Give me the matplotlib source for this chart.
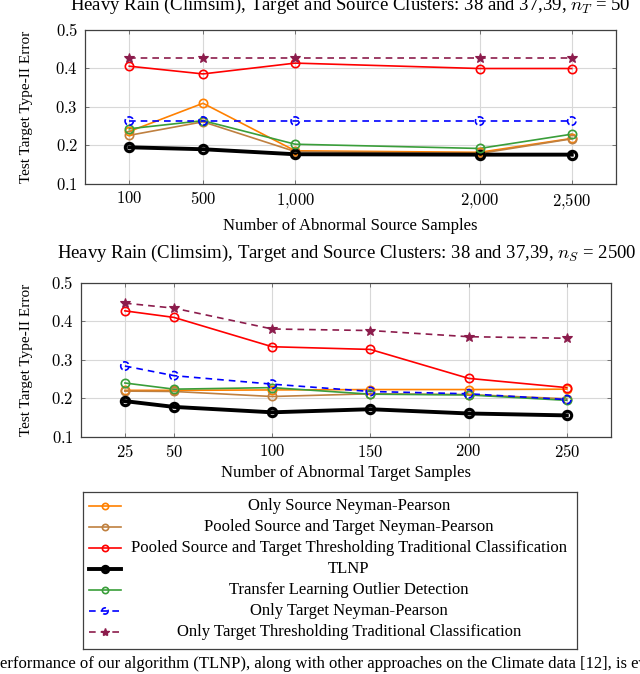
import matplotlib
matplotlib.use("Agg")
import matplotlib.pyplot as plt

plt.rcParams['font.family'] = ['Liberation Serif', 'DejaVu Serif']
plt.rcParams['mathtext.fontset'] = 'cm'

W, H = 640, 674

# Data: top panel (vary number of abnormal source samples, n_T = 50)
src_x = [100, 500, 1000, 2000, 2500]
src_ticklabels = ['$100$', '$500$', '$1{,}000$', '$2{,}000$', '$2{,}500$']
src_only_source_np = [0.236, 0.309, 0.186, 0.182, 0.218]
src_pooled_np = [0.226, 0.261, 0.184, 0.179, 0.217]
src_pooled_thresh = [0.405, 0.385, 0.413, 0.399, 0.399]
src_tlnp = [0.195, 0.190, 0.177, 0.176, 0.176]
src_tlod = [0.243, 0.264, 0.203, 0.192, 0.229]
src_only_target_np = [0.263, 0.263, 0.263, 0.263, 0.263]
src_only_target_thresh = [0.426, 0.426, 0.426, 0.426, 0.426]

# Data: bottom panel (vary number of abnormal target samples, n_S = 2500)
tgt_x = [25, 50, 100, 150, 200, 250]
tgt_ticklabels = ['$25$', '$50$', '$100$', '$150$', '$200$', '$250$']
tgt_only_source_np = [0.221, 0.221, 0.222, 0.223, 0.223, 0.224]
tgt_pooled_np = [0.219, 0.218, 0.205, 0.212, 0.210, 0.199]
tgt_pooled_thresh = [0.427, 0.410, 0.334, 0.327, 0.252, 0.228]
tgt_tlnp = [0.193, 0.178, 0.164, 0.172, 0.161, 0.156]
tgt_tlod = [0.240, 0.224, 0.228, 0.211, 0.209, 0.195]
tgt_only_target_np = [0.284, 0.259, 0.237, 0.218, 0.212, 0.197]
tgt_only_target_thresh = [0.447, 0.434, 0.380, 0.376, 0.360, 0.356]

labels = ['Only Source Neyman-Pearson',
          'Pooled Source and Target Neyman-Pearson',
          'Pooled Source and Target Thresholding Traditional Classification',
          'TLNP',
          'Transfer Learning Outlier Detection',
          'Only Target Neyman-Pearson',
          'Only Target Thresholding Traditional Classification']

# Styles for each method, in legend order
styles = [
    dict(color='#ff8000', lw=1.2, marker='o', ms=6, ls='-'),
    dict(color='#bf8040', lw=1.2, marker='o', ms=6, ls='-'),
    dict(color='#ff0000', lw=1.2, marker='o', ms=6, ls='-'),
    dict(color='#000000', lw=2.8, marker='o', ms=6, ls='-'),
    dict(color='#3a9e3a', lw=1.2, marker='o', ms=6, ls='-'),
    dict(color='#0000ff', lw=1.2, marker='o', ms=6, ls=(0, (4, 3))),
    dict(color='#8c1c4c', lw=1.2, marker='*', ms=7, ls=(0, (4, 3))),
]


def px_axes(left, top, right, bottom):
    return fig.add_axes([left / W, 1 - bottom / H, (right - left) / W, (bottom - top) / H])


def draw_series(ax, x, y, st):
    ax.plot(x, y, color=st['color'], lw=st['lw'], ls=st['ls'], zorder=3)
    if st['ls'] == '-':
        ax.plot(x, y, ls='none', marker=st['marker'], ms=st['ms'], mfc='none',
                mec=st['color'], mew=max(1.2, st['lw'] * 0.8), zorder=4)
    elif st['marker'] == '*':
        ax.plot(x, y, ls='none', marker='*', ms=st['ms'], mfc=st['color'],
                mec=st['color'], mew=0.8, zorder=4)
    else:
        ax.scatter(x, y, s=st['ms'] ** 2, marker='o', facecolors='none',
                   edgecolors=st['color'], linewidths=1.2, linestyles='--', zorder=4)


def style_axes(ax, xticks, xticklabels, xlim):
    ax.set_xlim(*xlim)
    ax.set_ylim(0.1, 0.5)
    ax.set_xticks(xticks)
    ax.set_xticklabels(xticklabels)
    ax.set_yticks([0.1, 0.2, 0.3, 0.4, 0.5])
    ax.set_yticklabels(['$0.1$', '$0.2$', '$0.3$', '$0.4$', '$0.5$'])
    ax.grid(True, color='#d8d8d8', lw=0.8, zorder=0)
    ax.tick_params(direction='in', top=True, right=True, length=3, width=0.6,
                   color='#606060', labelsize=12, pad=5)
    for s in ax.spines.values():
        s.set_color('#404040')
        s.set_linewidth(0.9)
    ax.set_ylabel('Test Target Type-II Error', fontsize=11)


fig = plt.figure(figsize=(W / 100, H / 100), dpi=100)

# Top panel
ax1 = px_axes(85, 29.5, 616, 184)
top_data = [src_only_source_np, src_pooled_np, src_pooled_thresh, src_tlnp,
            src_tlod, src_only_target_np, src_only_target_thresh]
for y, st in zip(top_data, styles):
    draw_series(ax1, src_x, y, st)
style_axes(ax1, src_x, src_ticklabels, (-140, 2740))
ax1.yaxis.set_label_coords(-0.098, 0.5)
ax1.set_xlabel('Number of Abnormal Source Samples', fontsize=12)
ax1.xaxis.set_label_coords(0.5, (184 - 218) / 154.5)
fig.text(350 / W, 1 - 5 / H,
         'Heavy Rain (Climsim), Target and Source Clusters: 38 and 37,39, $n_T$ = 50',
         ha='center', va='center', fontsize=13.5)

# Bottom panel
ax2 = px_axes(80.7, 282.7, 611, 437)
bottom_data = [tgt_only_source_np, tgt_pooled_np, tgt_pooled_thresh, tgt_tlnp,
               tgt_tlod, tgt_only_target_np, tgt_only_target_thresh]
for y, st in zip(bottom_data, styles):
    draw_series(ax2, tgt_x, y, st)
style_axes(ax2, tgt_x, tgt_ticklabels, (2.5, 272.5))
ax2.yaxis.set_label_coords((33 - 80.7) / 530.3, 0.5)
ax2.set_xlabel('Number of Abnormal Target Samples', fontsize=12)
ax2.xaxis.set_label_coords(0.5, (437 - 465) / 154.3)
fig.text(347 / W, 1 - 253 / H,
         'Heavy Rain (Climsim), Target and Source Clusters: 38 and 37,39, $n_S$ = 2500',
         ha='center', va='center', fontsize=13.5)

# Legend box drawn by hand so entries are centred like pgfplots
lg = px_axes(83, 492, 577, 649)
lg.set_xlim(83, 577)
lg.set_ylim(649, 492)
lg.set_xticks([])
lg.set_yticks([])
for s in lg.spines.values():
    s.set_color('#404040')
    s.set_linewidth(0.9)
rows = [505.7, 526.7, 547.7, 568.7, 590, 611, 632]
for yy, lab, st in zip(rows, labels, styles):
    if st['ls'] == '-':
        lg.plot([89, 121], [yy, yy], color=st['color'], lw=st['lw'])
        lg.plot([105], [yy], ls='none', marker='o', ms=4.5, mfc='none',
                mec=st['color'], mew=max(1.2, st['lw'] * 0.8))
    else:
        lg.plot([89, 121], [yy, yy], color=st['color'], lw=st['lw'], ls=st['ls'])
        if st['marker'] == '*':
            lg.plot([105], [yy], ls='none', marker='*', ms=6, color=st['color'])
        else:
            lg.scatter([105], [yy], s=20, marker='o', facecolors='none',
                       edgecolors=st['color'], linewidths=1.2, linestyles='--')
    lg.text(349, yy, lab, ha='center', va='center', fontsize=12)

# Caption fragment at the bottom edge
fig.text(0, 1 - 664 / H,
         'erformance of our algorithm (TLNP), along with other approaches on the Climate data [12], is ev',
         ha='left', va='center', fontsize=12)

fig.savefig('out.png', dpi=100)
